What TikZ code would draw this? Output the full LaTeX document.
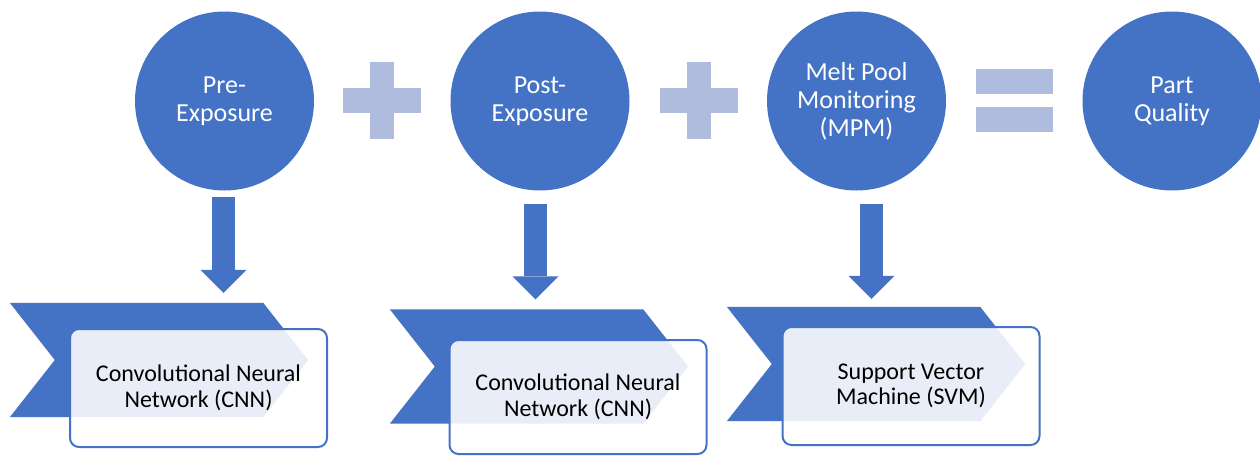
\documentclass[tikz,border=0pt]{standalone}
\usepackage{fontspec}
\setmainfont{Carlito}
\usetikzlibrary{arrows.meta}
\definecolor{mainblue}{HTML}{4472C4}
\definecolor{opblue}{HTML}{B0BCDE}

\begin{document}
\begin{tikzpicture}[x=1pt,y=-1pt,
    stage/.style={circle,fill=mainblue,minimum size=179pt,inner sep=0pt,text=white,align=center,font=\fontsize{26}{28}\selectfont},
    band/.style={minimum width=298pt,minimum height=114pt,inner sep=0pt},
    method/.style={draw=mainblue,line width=2pt,rounded corners=9pt,fill=white,fill opacity=0.88,text opacity=1,minimum width=257pt,minimum height=118pt,inner sep=0pt,align=center,font=\fontsize{24}{25.5}\selectfont},
    down/.style={mainblue,line width=23pt,-{Triangle[width=46pt,length=23pt,line width=0pt]}},
    opsign/.style={fill=opblue}]
    \useasboundingbox (0,0) rectangle (1260,455);
    % top row
    \node (c1) [stage] at (224.5,101) {Pre-\\Exposure};
    \node (c2) [stage] at (540,101) {Post-\\Exposure};
    \node (c3) [stage] at (856.5,101) {Melt Pool\\Monitoring\\(MPM)};
    \node (c4) [stage] at (1172,101) {Part\\Quality};
    % plus and equals signs
    \foreach \x in {382,698.5} {
        \fill [opsign] (\x-39,88) rectangle (\x+39,113);
        \fill [opsign] (\x-12,62) rectangle (\x+12,139);
    }
    \fill [opsign] (976,69) rectangle (1053,94);
    \fill [opsign] (976,107) rectangle (1053,132);
    % chevrons
    \node (ch1) [band] at (159,360) {};
    \node (ch2) [band] at (539,366.5) {};
    \node (ch3) [band] at (876,364) {};
    \foreach \b in {ch1,ch2,ch3}
        \fill [mainblue] (\b.north west) -- ([xshift=-45pt]\b.north east) -- (\b.east)
            -- ([xshift=-45pt]\b.south east) -- (\b.south west) -- ([xshift=45pt]\b.west) -- cycle;
    % method boxes
    \node (m1) [method] at (198.5,388) {Convolutional Neural\\Network (CNN)};
    \node (m2) [method,minimum height=114pt] at (578,397) {Convolutional Neural\\Network (CNN)};
    \node (m3) [method] at (911,386) {Support Vector\\Machine (SVM)};
    % arrows
    \draw [down] ([xshift=-1pt,yshift=-6.5pt]c1.south) -- ([xshift=-1pt,yshift=10pt]c1.south |- ch1.north);
    \draw [down] ([xshift=-4.5pt,yshift=-13.5pt]c2.south) -- ([xshift=-4.5pt,yshift=10pt]c2.south |- ch2.north);
    \draw [down] ([xshift=15pt,yshift=-13.5pt]c3.south) -- ([xshift=15pt,yshift=8pt]c3.south |- ch3.north);
\end{tikzpicture}
\end{document}
